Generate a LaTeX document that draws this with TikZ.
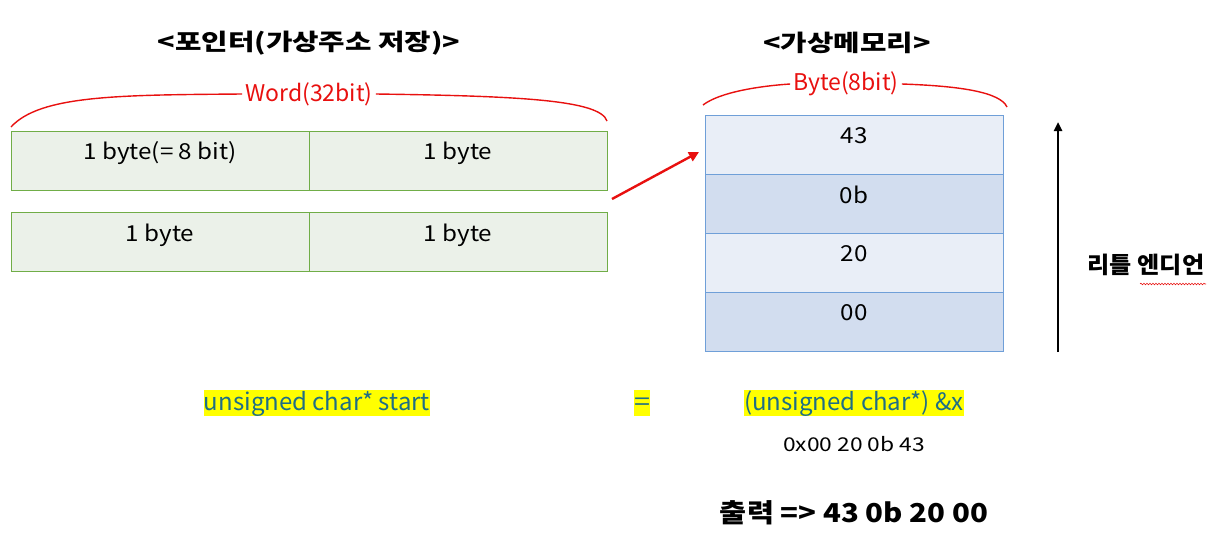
\documentclass[tikz,border=0pt]{standalone}
\usepackage{fontspec}
\setmainfont{Noto Sans CJK KR}
\usetikzlibrary{arrows.meta,decorations.pathmorphing}
\definecolor{gfill}{HTML}{EBF1E9}
\definecolor{gdraw}{HTML}{70AD47}
\definecolor{blight}{HTML}{E9EEF7}
\definecolor{bdark}{HTML}{D2DDEF}
\definecolor{bdraw}{HTML}{6F9FD8}
\definecolor{hl}{HTML}{FFFF00}
\definecolor{codec}{HTML}{1E6E86}
\definecolor{redc}{HTML}{E8100F}
\newcommand\hsx[2]{\scalebox{#1}[1]{#2}}
\tikzset{
  gcell/.style={draw=gdraw,fill=gfill,line width=1.4pt,minimum width=298pt,minimum height=59pt,inner sep=0pt,anchor=north west},
  bcell/.style={draw=bdraw,line width=1.4pt,minimum width=298pt,minimum height=59pt,inner sep=0pt,anchor=north west},
  celltxt/.style={font=\fontsize{22}{24}\selectfont,anchor=center},
  title/.style={font=\fontsize{23}{25}\selectfont\bfseries},
  redlbl/.style={font=\fontsize{23}{25}\selectfont,text=redc,inner sep=3pt},
  code/.style={font=\fontsize{24}{26}\selectfont,text=codec,fill=hl,inner xsep=0pt,inner ysep=0pt,text depth=6pt,text height=20pt},
  brace/.style={draw=redc,line width=1.4pt}
}
\begin{document}
\begin{tikzpicture}[x=1pt,y=-1pt]
\useasboundingbox (0,0) rectangle (1214,539);
% titles
\node[title] (t1) at (309,43) {\hsx{1.25}{<포인터(가상주소 저장)>}};
\node[title] (t2) at (847,43) {\hsx{1.25}{<가상메모리>}};
% left word boxes
\node[gcell] (a1) at (11,131) {};
\node[gcell] (a2) at (309,131) {};
\node[gcell] (b1) at (11,212) {};
\node[gcell] (b2) at (309,212) {};
\node[celltxt] (a1t) at (160,153) {\hsx{1.1}{1 byte(= 8 bit)}};
\node[celltxt] (a2t) at (458,153) {\hsx{1.1}{1 byte}};
\node[celltxt] (b1t) at (160,235) {\hsx{1.1}{1 byte}};
\node[celltxt] (b2t) at (458,235) {\hsx{1.1}{1 byte}};
% word brace
\node[redlbl] (wl) at (309,94) {Word(32bit)};
\coordinate (wa) at (11,127);
\coordinate (wb) at (607,121);
\draw[brace] (wa) .. controls (40,95) and (120,95) .. (wl.west);
\draw[brace] (wl.east) .. controls (520,96) and (600,100) .. (wb);
% memory column
\node[bcell,fill=blight] (m1) at (705,115) {};
\node[bcell,fill=bdark] (m2) at (705,174) {};
\node[bcell,fill=blight] (m3) at (705,233) {};
\node[bcell,fill=bdark] (m4) at (705,292) {};
\node[celltxt] (m1t) at (854,136) {\hsx{1.1}{43}};
\node[celltxt] (m2t) at (854,195) {\hsx{1.1}{0b}};
\node[celltxt] (m3t) at (854,254) {\hsx{1.1}{20}};
\node[celltxt] (m4t) at (854,313) {\hsx{1.1}{00}};
% byte brace
\node[redlbl] (bl) at (846,84) {Byte(8bit)};
\coordinate (ba) at (703,105);
\coordinate (bb) at (1007,107);
\draw[brace] (ba) .. controls (720,92) and (760,86) .. (bl.west);
\draw[brace] (bl.east) .. controls (960,86) and (1000,92) .. (bb);
% red pointer arrow
\coordinate (pa) at (612,199);
\coordinate (pb) at (699,152);
\draw[draw=redc,line width=2.4pt,-{Triangle[length=10pt,width=10pt]}] (pa) -- (pb);
% little endian arrow
\coordinate (ea) at (1058,352);
\coordinate (eb) at (1058,122);
\draw[line width=2.6pt,-{Triangle[length=9pt,width=8pt]}] (ea) -- (eb);
\node[font=\fontsize{23}{25}\selectfont\bfseries] (le) at (1146,265) {\hsx{1.05}{리틀 엔디언}};
\coordinate (wv1) at (1140,284);
\coordinate (wv2) at (1206,284);
\draw[redc,line width=0.6pt,decorate,decoration={snake,amplitude=0.8pt,segment length=3pt}] (wv1) -- (wv2);
% code line
\node[code] (c1) at (317,403) {unsigned char* start};
\node[code] (c2) at (642,403) {\hsx{1.2}{=}};
\node[code] (c3) at (854,403) {(unsigned char*) \&x};
\node[font=\fontsize{19}{21}\selectfont] (hex) at (854,444) {\hsx{1.2}{0x00 20 0b 43}};
\node[font=\fontsize{26}{28}\selectfont\bfseries] (out) at (854,513) {\hsx{1.13}{출력 => 43 0b 20 00}};
\end{tikzpicture}
\end{document}
